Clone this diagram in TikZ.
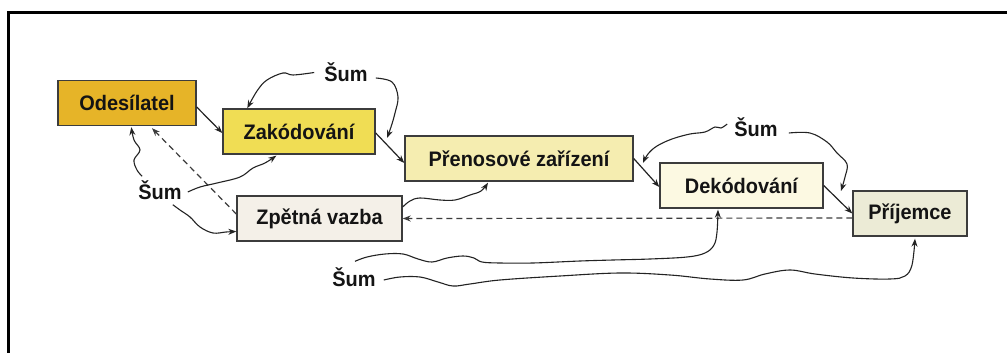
\documentclass[tikz,border=0pt]{standalone}
\usepackage{fontspec}
\setmainfont{Liberation Sans}[FakeStretch=0.95]
\usetikzlibrary{arrows.meta,calc}
\definecolor{cOdes}{RGB}{230,180,40}
\definecolor{cZak}{RGB}{240,221,84}
\definecolor{cPren}{RGB}{245,237,176}
\definecolor{cDek}{RGB}{252,249,226}
\definecolor{cPrij}{RGB}{236,235,214}
\definecolor{cZpet}{RGB}{244,240,232}
\definecolor{boxline}{RGB}{60,60,60}
\definecolor{textc}{RGB}{20,20,20}
\definecolor{linec}{RGB}{35,35,35}
\begin{document}
\begin{tikzpicture}[x=1pt,y=-1pt,
  box/.style={draw=boxline, line width=1.4pt, minimum height=45pt, inner sep=0pt,
    font=\fontsize{21}{24}\selectfont\bfseries, text=textc},
  lbl/.style={font=\fontsize{21}{24}\selectfont\bfseries, inner sep=0pt, text=textc},
  arr/.style={-{Stealth[length=8pt,width=6pt]}, line width=1.2pt, draw=linec},
  noise/.style={arr, line width=1.1pt},
  fb/.style={arr, dash pattern=on 6pt off 4pt, draw=boxline}]
\useasboundingbox (0,0) rectangle (1007,353);
\fill[white] (0,0) rectangle (1007,353);
% frame
\draw[line width=3pt, line cap=rect] (1010,13) -- (8,13) -- (8,356);
% boxes
\node[box, fill=cOdes, minimum width=138pt] (odes) at (127,103) {Odesílatel};
\node[box, fill=cZak,  minimum width=152pt] (zak)  at (299,131.5) {Zakódování};
\node[box, fill=cPren, minimum width=228pt] (pren) at (519,158.5) {Přenosové zařízení};
\node[box, fill=cDek,  minimum width=163pt] (dek)  at (741.5,185.5) {Dekódování};
\node[box, fill=cPrij, minimum width=114pt] (prij) at (910,213.5) {Příjemce};
\node[box, fill=cZpet, minimum width=165pt] (zpet) at (319.5,218.5) {Zpětná vazba};
% noise labels
\node[lbl] (sumT) at (346,72.5) {Šum};
\node[lbl] (sumL) at (160,190) {Šum};
\node[lbl] (sumR) at (756,127) {Šum};
\node[lbl] (sumB) at (354,277) {Šum};
% main chain
\draw[arr] ($(odes.east)+(0,4)$) -- ($(zak.west)+(0,1.5)$);
\draw[arr] ($(zak.east)+(0,1.5)$) -- ($(pren.west)+(0,4.5)$);
\draw[arr] (pren.east) -- ($(dek.west)+(0,1.5)$);
\draw[arr] (dek.east) -- (prij.west);
% feedback (dashed)
\draw[fb] ($(prij.west)+(0,4.5)$) -- (zpet.east);
\draw[fb] ($(zpet.west)+(0,-4.5)$) -- ($(odes.south)+(25,2)$);
% feedback to channel
\draw[noise] plot[smooth, tension=0.6] coordinates {($(zpet.east)+(0,-11.5)$) (410,201) (420,198) (440,200) (455,200) (470,195) (481,191) ($(pren.south)+(-31,1)$)};
% top noise
\draw[noise] plot[smooth, tension=0.6] coordinates {($(sumT.west)+(-10,0)$) (293,75) (283,73) (267,80) (257,91) ($(zak.north west)+(25,0)$)};
\draw[noise] plot[smooth, tension=0.6] coordinates {($(sumT.east)+(8,5.5)$) (392,82) (398,97) (395,113) (391,127) (387,138)};
% left noise
\draw[noise] plot[smooth, tension=0.6] coordinates {($(sumL.north west)+(4,-4)$) (137,170) (134,160) (140,150) (134,140) ($(odes.south west)+(74,1)$)};
\draw[noise] plot[smooth, tension=0.6] coordinates {($(sumL.east)+(6,2)$) (200,187) (217,183) (240,177) (253,168) (265,163) ($(zak.south west)+(54,1)$)};
\draw[noise] plot[smooth, tension=0.6] coordinates {($(sumL.south east)+(-9,5)$) (180,210) (190,217) (200,227) (213,233) (226,232) ($(zpet.west)+(0,13)$)};
% right noise
\draw[noise] plot[smooth, tension=0.6] coordinates {($(sumR.west)+(-7,-3)$) (721,128) (715,127) (705,132) (690,134) (672,139) (657,146) (648,154) (643,163)};
\draw[noise] plot[smooth, tension=0.6] coordinates {($(sumR.east)+(11,6)$) (810,133) (827,142) (837,153) (847,164) (845,177) (841,191)};
% bottom noise
\draw[noise] plot[smooth, tension=0.6] coordinates {($(sumB.north)+(1,-6)$) (367,257) (385,254) (403,254) (418,259) (432,262) (447,258) (463,256) (474,258) (482,262) (500,263) (533,263) (580,261) (613,260) (650,259) (687,257) (705,253) (714,245) (717,232) ($(dek.south)+(-23.5,1)$)};
\draw[noise] plot[smooth, tension=0.6] coordinates {($(sumB.east)+(8,3)$) (400,277) (420,277) (438,282) (453,286) (470,284) (500,280) (560,276) (620,273) (670,275) (710,279) (743,280) (765,274) (790,270) (815,274) (853,278) (890,279) (905,276) (912,265) ($(prij.south)+(5,2)$)};
\end{tikzpicture}
\end{document}
